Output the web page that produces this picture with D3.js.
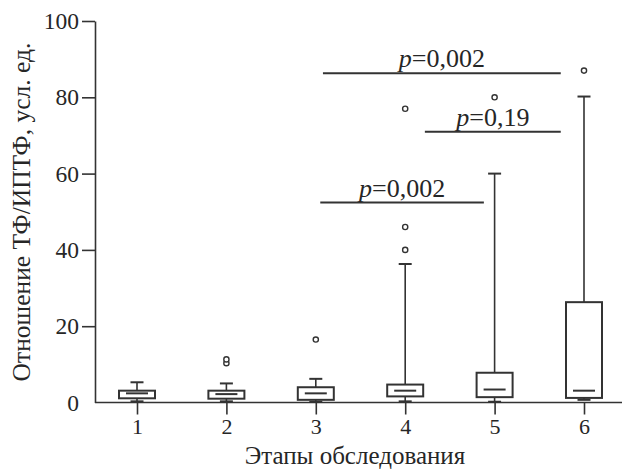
<!DOCTYPE html>
<html>
<head>
<meta charset="utf-8">
<script src="https://cdn.jsdelivr.net/npm/d3@7"></script>
<style>
  html, body { margin: 0; padding: 0; background: #fff; }
  svg { display: block; }
  text { font-family: "Liberation Serif", "Times New Roman", serif; fill: #262626; }
</style>
</head>
<body>
<svg id="chart" width="625" height="470"></svg>
<script>
// Stages of examination and box-plot summaries of the TF/TFPI ratio
const stages = [1, 2, 3, 4, 5, 6];
const whiskerLow  = [0.3, 0.3, 0.2, 0.3, 0.2, 0.7];
const q1          = [1.1, 1.0, 0.7, 1.6, 1.4, 1.2];
const median      = [2.4, 2.2, 2.4, 3.1, 3.4, 3.1];
const q3          = [3.1, 3.1, 4.0, 4.7, 7.8, 26.3];
const whiskerHigh = [5.3, 5.0, 6.2, 36.3, 60.0, 80.2];
const outliers    = [[], [10.3, 11.3], [16.5], [40, 46, 77], [80], [87]];

// Pairwise comparisons: span along the stage axis, height and p-value
const sigFrom  = [3.05, 4.22, 3.08];
const sigTo    = [4.88, 5.74, 5.74];
const sigLevel = [52.4, 71.0, 86.3];
const sigLabel = ["0,002", "0,19", "0,002"];

const yTicks = [0, 20, 40, 60, 80, 100];

const ink = "#333";
const serif = "'Liberation Serif', 'Times New Roman', serif";
const svg = d3.select("#chart");

const x = d3.scaleLinear().domain([1, 6]).range([137, 584]);
const y = d3.scaleLinear().domain([0, 100]).range([402.5, 21]);

// Y axis
const yAxis = d3.axisLeft(y).tickValues(yTicks).tickSize(13).tickPadding(3).tickSizeOuter(0);
const gy = svg.append("g").attr("transform", "translate(95,0)").call(yAxis);
gy.attr("font-family", null);
gy.select(".domain").attr("stroke", ink).attr("stroke-width", 1.6);
gy.selectAll(".tick line").attr("stroke", ink).attr("stroke-width", 1.6)
  .filter(d => d === 0).remove();
gy.selectAll(".tick text").attr("font-size", 23.5).attr("fill", "#262626")
  .style("font-family", serif);

// X axis
const xAxis = d3.axisBottom(x).tickValues(stages).tickFormat(d3.format("d"))
  .tickSize(12).tickPadding(4).tickSizeOuter(0);
const gx = svg.append("g").attr("transform", `translate(0,${y(0)})`).call(xAxis);
gx.attr("font-family", null);
gx.select(".domain").remove();
gx.append("line").attr("x1", 95).attr("x2", 622).attr("y1", 0).attr("y2", 0)
  .attr("stroke", ink).attr("stroke-width", 1.6);
gx.selectAll(".tick line").attr("stroke", ink).attr("stroke-width", 1.6);
gx.selectAll(".tick text").attr("font-size", 22).attr("fill", "#262626")
  .style("font-family", serif);

// Axis titles
svg.append("text")
  .attr("transform", "translate(30,212) rotate(-90)")
  .attr("text-anchor", "middle")
  .attr("font-size", 25.5)
  .text("Отношение ТФ/ИПТФ, усл. ед.");

svg.append("text")
  .attr("x", 355).attr("y", 464)
  .attr("text-anchor", "middle")
  .attr("font-size", 25)
  .text("Этапы обследования");

// Box plots
const boxW = 36, capW = 13, medW = 22;
const boxes = svg.append("g").selectAll("g").data(stages).join("g");

boxes.append("line")
  .attr("x1", d => x(d)).attr("x2", d => x(d))
  .attr("y1", (d, i) => y(whiskerHigh[i])).attr("y2", (d, i) => y(q3[i]))
  .attr("stroke", ink).attr("stroke-width", 1.6);
boxes.append("line")
  .attr("x1", d => x(d)).attr("x2", d => x(d))
  .attr("y1", (d, i) => y(q1[i])).attr("y2", (d, i) => y(whiskerLow[i]))
  .attr("stroke", ink).attr("stroke-width", 1.6);
boxes.append("line")
  .attr("x1", d => x(d) - capW / 2).attr("x2", d => x(d) + capW / 2)
  .attr("y1", (d, i) => y(whiskerHigh[i])).attr("y2", (d, i) => y(whiskerHigh[i]))
  .attr("stroke", ink).attr("stroke-width", 2);
boxes.append("line")
  .attr("x1", d => x(d) - capW / 2).attr("x2", d => x(d) + capW / 2)
  .attr("y1", (d, i) => y(whiskerLow[i])).attr("y2", (d, i) => y(whiskerLow[i]))
  .attr("stroke", ink).attr("stroke-width", 2);
boxes.append("rect")
  .attr("x", d => x(d) - boxW / 2).attr("width", boxW)
  .attr("y", (d, i) => y(q3[i])).attr("height", (d, i) => y(q1[i]) - y(q3[i]))
  .attr("fill", "#fff").attr("stroke", ink).attr("stroke-width", 2);
boxes.append("line")
  .attr("x1", d => x(d) - medW / 2).attr("x2", d => x(d) + medW / 2)
  .attr("y1", (d, i) => y(median[i])).attr("y2", (d, i) => y(median[i]))
  .attr("stroke", ink).attr("stroke-width", 2);

// Outliers
boxes.each(function (d, i) {
  d3.select(this).selectAll("circle").data(outliers[i]).join("circle")
    .attr("cx", x(d)).attr("cy", v => y(v)).attr("r", 2.6)
    .attr("fill", "#fff").attr("stroke", ink).attr("stroke-width", 1.4);
});

// Significance bars with p-values
const sig = svg.append("g").selectAll("g").data(sigLabel).join("g");
sig.append("line")
  .attr("x1", (d, i) => x(sigFrom[i])).attr("x2", (d, i) => x(sigTo[i]))
  .attr("y1", (d, i) => y(sigLevel[i])).attr("y2", (d, i) => y(sigLevel[i]))
  .attr("stroke", ink).attr("stroke-width", 2);
const lab = sig.append("text")
  .attr("x", (d, i) => (x(sigFrom[i]) + x(sigTo[i])) / 2)
  .attr("y", (d, i) => y(sigLevel[i]) - 6)
  .attr("text-anchor", "middle")
  .attr("font-size", 26);
lab.append("tspan").attr("font-style", "italic").text("p");
lab.append("tspan").text(d => "=" + d);
</script>
</body>
</html>
